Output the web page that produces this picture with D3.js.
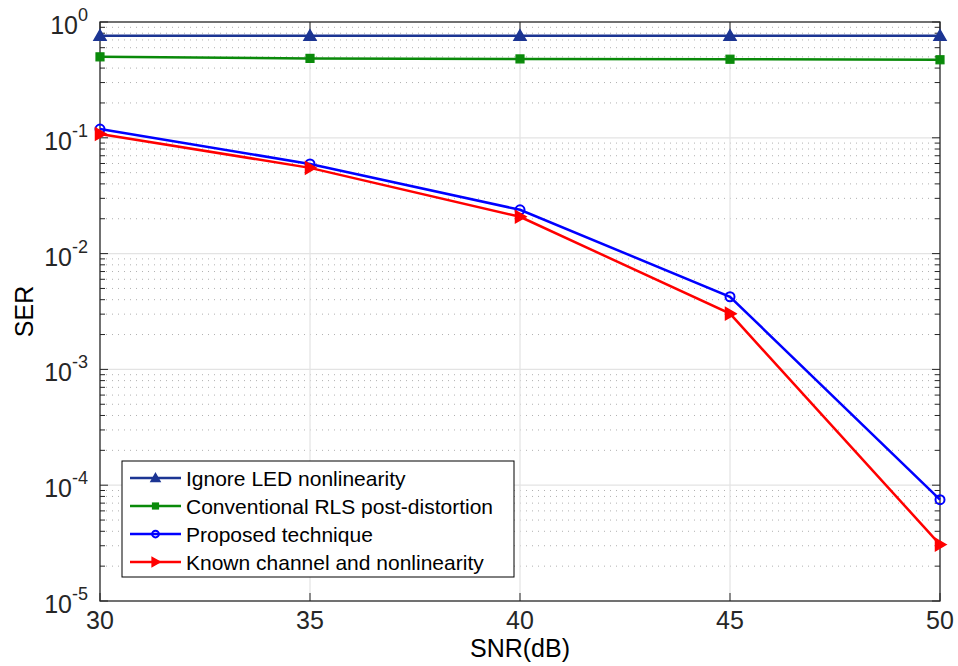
<!DOCTYPE html>
<html>
<head>
<meta charset="utf-8">
<script src="https://cdn.jsdelivr.net/npm/d3@7"></script>
<style>
  body { margin: 0; background: #fff; }
  text { font-family: "Liberation Sans", Arial, sans-serif; }
</style>
</head>
<body>
<div id="chart"></div>
<script>
// SNR points (dB)
const snr = [30, 35, 40, 45, 50];

// SER values per curve
const serIgnore = [0.76, 0.76, 0.76, 0.76, 0.76];
const serRLS = [0.50, 0.485, 0.48, 0.477, 0.472];
const serProposed = [0.119, 0.0595, 0.0239, 0.00424, 7.5e-5];
const serKnown = [0.108, 0.055, 0.0208, 0.00303, 3.07e-5];

const seriesNames = ["Ignore LED nonlinearity", "Conventional RLS post-distortion", "Proposed technique", "Known channel and nonlinearity"];
const seriesColors = ["#1c3593", "#0a8a0a", "#0000ff", "#ff0000"];
const seriesMarkers = ["triUp", "square", "circle", "triRight"];
const seriesValues = [serIgnore, serRLS, serProposed, serKnown];

const xTicks = [30, 35, 40, 45, 50];
const yExps = [0, -1, -2, -3, -4, -5];

const width = 958, height = 666;
const margin = { left: 100, right: 18, top: 22, bottom: 65 };

const svg = d3.select("#chart").append("svg")
    .attr("width", width)
    .attr("height", height)

const x = d3.scaleLinear().domain([30, 50]).range([margin.left, width - margin.right])
const y = d3.scaleLog().domain([1e-5, 1]).range([height - margin.bottom, margin.top])

const plot = svg.append("g")

// minor grid (dotted)
let minorVals = []
for (let e = -5; e < 0; e++) {
    for (let m = 2; m <= 9; m++) minorVals.push(m * Math.pow(10, e))
}
plot.append("g").selectAll("line").data(minorVals).join("line")
    .attr("x1", x.range()[0]).attr("x2", x.range()[1])
    .attr("y1", d => y(d)).attr("y2", d => y(d))
    .attr("stroke", "#b0b0b0")
    .attr("stroke-width", 1)
    .attr("stroke-dasharray", "1,5")

// major grid
plot.append("g").selectAll("line").data(yExps.slice(1, -1)).join("line")
    .attr("x1", x.range()[0]).attr("x2", x.range()[1])
    .attr("y1", d => y(Math.pow(10, d))).attr("y2", d => y(Math.pow(10, d)))
    .attr("stroke", "#e3e3e3")
    .attr("stroke-width", 1.2)
plot.append("g").selectAll("line").data(xTicks.slice(1, -1)).join("line")
    .attr("x1", d => x(d)).attr("x2", d => x(d))
    .attr("y1", y.range()[0]).attr("y2", y.range()[1])
    .attr("stroke", "#e3e3e3")
    .attr("stroke-width", 1.2)

// ticks, inward on every side
const tickCol = "#262626"
const ticks = svg.append("g").attr("stroke", tickCol).attr("stroke-width", 1)
xTicks.forEach(t => {
    ticks.append("line").attr("x1", x(t)).attr("x2", x(t)).attr("y1", y.range()[0]).attr("y2", y.range()[0] - 8)
    ticks.append("line").attr("x1", x(t)).attr("x2", x(t)).attr("y1", y.range()[1]).attr("y2", y.range()[1] + 8)
})
yExps.forEach(e => {
    const yy = y(Math.pow(10, e))
    ticks.append("line").attr("x1", x.range()[0]).attr("x2", x.range()[0] + 8).attr("y1", yy).attr("y2", yy)
    ticks.append("line").attr("x1", x.range()[1]).attr("x2", x.range()[1] - 8).attr("y1", yy).attr("y2", yy)
})
minorVals.forEach(v => {
    const yy = y(v)
    ticks.append("line").attr("x1", x.range()[0]).attr("x2", x.range()[0] + 5).attr("y1", yy).attr("y2", yy)
    ticks.append("line").attr("x1", x.range()[1]).attr("x2", x.range()[1] - 5).attr("y1", yy).attr("y2", yy)
})

// box
svg.append("rect")
    .attr("x", x.range()[0]).attr("y", y.range()[1])
    .attr("width", x.range()[1] - x.range()[0])
    .attr("height", y.range()[0] - y.range()[1])
    .attr("fill", "none")
    .attr("stroke", tickCol)
    .attr("stroke-width", 1.3)

// tick labels
svg.append("g").selectAll("text").data(xTicks).join("text")
    .attr("x", d => x(d))
    .attr("y", y.range()[0] + 28)
    .attr("text-anchor", "middle")
    .attr("fill", tickCol)
    .style("font-size", "25px")
    .text(d => d)

const yLab = svg.append("g").selectAll("text").data(yExps).join("text")
    .attr("x", x.range()[0] - 12)
    .attr("y", d => y(Math.pow(10, d)) + 12)
    .attr("text-anchor", "end")
    .attr("fill", tickCol)
    .style("font-size", "25px")
yLab.append("tspan").text("10")
yLab.append("tspan").attr("dy", -13).style("font-size", "18px").text(d => d)

// axis labels
svg.append("text")
    .attr("x", (x.range()[0] + x.range()[1]) / 2)
    .attr("y", 657)
    .attr("text-anchor", "middle")
    .attr("fill", "#000")
    .style("font-size", "25px")
    .text("SNR(dB)")
svg.append("text")
    .attr("transform", `translate(33, ${(y.range()[0] + y.range()[1]) / 2}) rotate(-90)`)
    .attr("text-anchor", "middle")
    .attr("fill", "#000")
    .style("font-size", "25px")
    .text("SER")

// markers
const drawMarker = (g, type, cx, cy, color, s) => {
    if (type === "triUp") {
        g.append("path").attr("d", `M${cx},${cy - 6 * s}L${cx + 6 * s},${cy + 4.5 * s}L${cx - 6 * s},${cy + 4.5 * s}Z`)
            .attr("fill", color).attr("stroke", color).attr("stroke-width", 1.5)
    } else if (type === "square") {
        g.append("rect").attr("x", cx - 4 * s).attr("y", cy - 4 * s).attr("width", 8 * s).attr("height", 8 * s)
            .attr("fill", color).attr("stroke", color).attr("stroke-width", 1.2)
    } else if (type === "circle") {
        g.append("circle").attr("cx", cx).attr("cy", cy).attr("r", 4.5 * s)
            .attr("fill", "none").attr("stroke", color).attr("stroke-width", 2)
    } else {
        g.append("path").attr("d", `M${cx + 6 * s},${cy}L${cx - 4.5 * s},${cy - 6 * s}L${cx - 4.5 * s},${cy + 6 * s}Z`)
            .attr("fill", color).attr("stroke", color).attr("stroke-width", 1.5)
    }
}

const line = d3.line().x(d => x(d[0])).y(d => y(d[1]))
const dataArea = svg.append("g")
seriesValues.forEach((vals, i) => {
    const pts = snr.map((s, j) => [s, vals[j]])
    dataArea.append("path").datum(pts)
        .attr("d", line)
        .attr("fill", "none")
        .attr("stroke", seriesColors[i])
        .attr("stroke-width", 2.5)
    pts.forEach(p => drawMarker(dataArea, seriesMarkers[i], x(p[0]), y(p[1]), seriesColors[i], 1))
})

// legend
const legend = svg.append("g")
legend.append("rect")
    .attr("x", 122).attr("y", 461)
    .attr("width", 392).attr("height", 116)
    .attr("fill", "#fff")
    .attr("stroke", "#000")
    .attr("stroke-width", 1)
seriesNames.forEach((name, i) => {
    const ly = 478 + i * 28
    legend.append("line").attr("x1", 130).attr("x2", 181).attr("y1", ly).attr("y2", ly)
        .attr("stroke", seriesColors[i]).attr("stroke-width", 2.5)
    drawMarker(legend, seriesMarkers[i], 155.5, ly, seriesColors[i], 0.75)
    legend.append("text").attr("x", 186).attr("y", ly + 7.5)
        .attr("fill", "#000")
        .style("font-size", "21px")
        .text(name)
})
</script>
</body>
</html>
